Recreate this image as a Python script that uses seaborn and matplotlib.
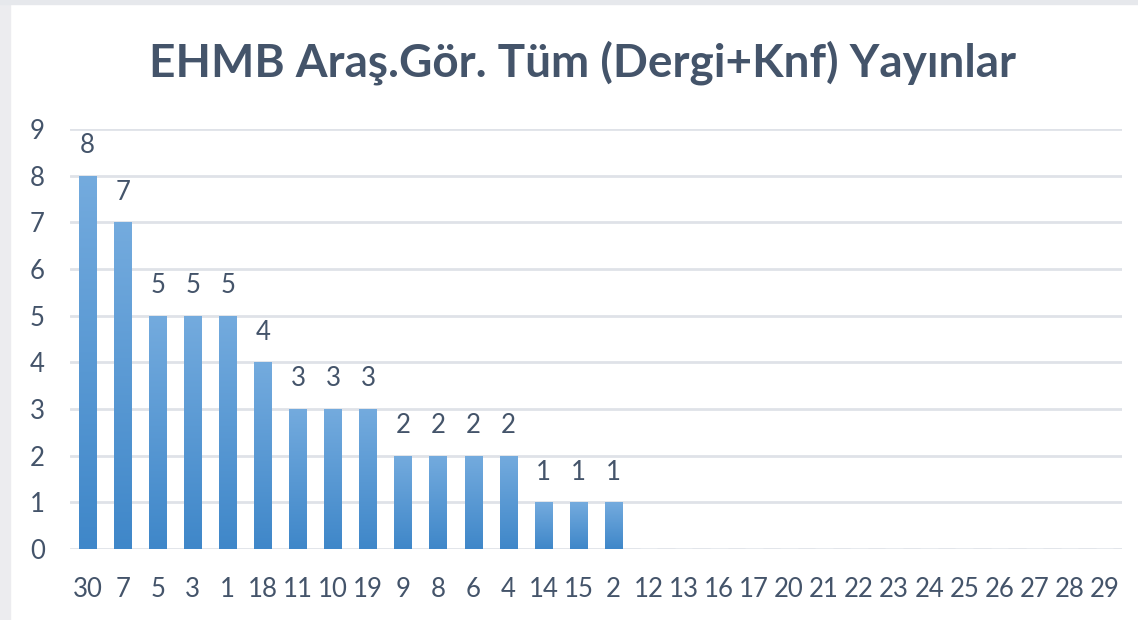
import numpy as np
import pandas as pd
import matplotlib
matplotlib.use("Agg")
import matplotlib.pyplot as plt
import seaborn as sns
from matplotlib.colors import LinearSegmentedColormap

categories = ["30", "7", "5", "3", "1", "18", "11", "10", "19", "9", "8", "6", "4",
              "14", "15", "2", "12", "13", "16", "17", "20", "21", "22", "23", "24",
              "25", "26", "27", "28", "29"]
values = [8, 7, 5, 5, 5, 4, 3, 3, 3, 2, 2, 2, 2, 1, 1, 1,
          0, 0, 0, 0, 0, 0, 0, 0, 0, 0, 0, 0, 0, 0]
title = "EHMB Araş.Gör. Tüm (Dergi+Knf) Yayınlar"

df = pd.DataFrame({"cat": categories, "val": values})

sns.set_style("white")
plt.rcParams["font.family"] = ["Lato", "DejaVu Sans"]

text_color = "#44546a"
grid_color = "#dfe2e8"

fig = plt.figure(figsize=(11.38, 6.2), dpi=100)
ax = fig.add_axes([0.0615, 0.1145, 0.9245, 0.6775])

sns.barplot(data=df, x="cat", y="val", order=categories, width=0.5,
            color="#5b9bd5", saturation=1, ax=ax, zorder=3)

# gradient fill clipped to each bar
cmap = LinearSegmentedColormap.from_list("bar", ["#3f87c9", "#74abde"])
grad = np.linspace(0, 1, 256).reshape(-1, 1)
for p in ax.patches:
    h = p.get_height()
    if h <= 0:
        continue
    x0 = p.get_x()
    w = p.get_width()
    p.set_facecolor("none")
    p.set_edgecolor("none")
    im = ax.imshow(grad, cmap=cmap, origin="lower", aspect="auto",
                   extent=[x0, x0 + w, 0, h], zorder=3)
    im.set_clip_path(p)

ax.set_xlim(-0.5, len(categories) - 0.5)
ax.set_ylim(0, 9)
ax.set_yticks(range(0, 10))

# data labels
for i, v in enumerate(values):
    if v > 0:
        ax.text(i, v + 0.38, str(v), ha="center", va="bottom",
                fontsize=18.5, color=text_color)

ax.yaxis.grid(True, color=grid_color, linewidth=2, zorder=0)
ax.set_axisbelow(True)
for s in ax.spines.values():
    s.set_visible(False)
ax.tick_params(axis="both", length=0, labelsize=18.5, labelcolor=text_color)
ax.tick_params(axis="x", pad=20)
ax.tick_params(axis="y", pad=18)
ax.set_xlabel("")
ax.set_ylabel("")

fig.suptitle(title, x=0.512, y=0.935, fontsize=33, fontweight="bold",
             color=text_color)

# outer frame like the source screenshot
fig.patches.append(plt.Rectangle((0.0, 0.0), 0.009, 1, transform=fig.transFigure,
                                 color="#ececef", zorder=0))
fig.patches.append(plt.Rectangle((0.0, 0.994), 1, 0.006, transform=fig.transFigure,
                                 color="#e6e8ec", zorder=0))

fig.savefig("out.png", dpi=100)
